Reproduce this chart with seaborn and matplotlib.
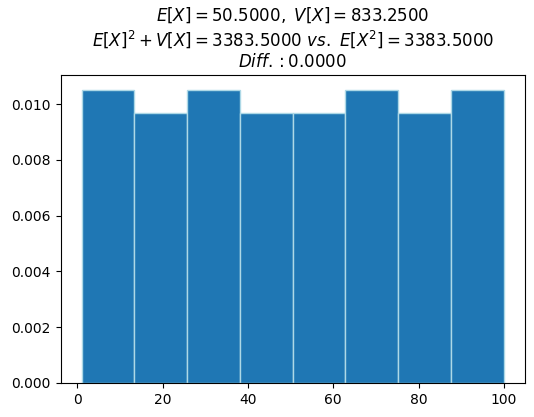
import numpy as np
import matplotlib
matplotlib.use("Agg")
import matplotlib.pyplot as plt
import seaborn as sns

# bin edges of the 8-bin histogram over the values 1..100
bin_edges = [1.0, 13.375, 25.75, 38.125, 50.5, 62.875, 75.25, 87.625, 100.0]
# number of values falling in each bin
bin_counts = [13, 12, 13, 12, 12, 13, 12, 13]

mean_x = 50.5
var_x = 833.25
e_x2 = 3383.5

bin_centers = [(a + b) / 2 for a, b in zip(bin_edges[:-1], bin_edges[1:])]

fig, ax = plt.subplots(figsize=(5.34, 4.17), dpi=100)
sns.histplot(x=bin_centers, weights=bin_counts, bins=bin_edges, stat="density",
             color="#1f77b4", edgecolor="lightblue", alpha=1.0, linewidth=1, ax=ax)
ax.set_ylabel("")
ax.set_xlabel("")

lhs = mean_x ** 2 + var_x
title = (r"$E[X]=%.4f,\ V[X]=%.4f$" % (mean_x, var_x) + "\n"
         + r"$E[X]^2+V[X]=%.4f\ vs.\ E[X^2]=%.4f$" % (lhs, e_x2) + "\n"
         + r"$Diff.:%.4f$" % (lhs - e_x2))
ax.set_title(title)
fig.subplots_adjust(left=0.1133, right=0.983, bottom=0.082, top=0.819)
fig.savefig("out.png", dpi=100)
